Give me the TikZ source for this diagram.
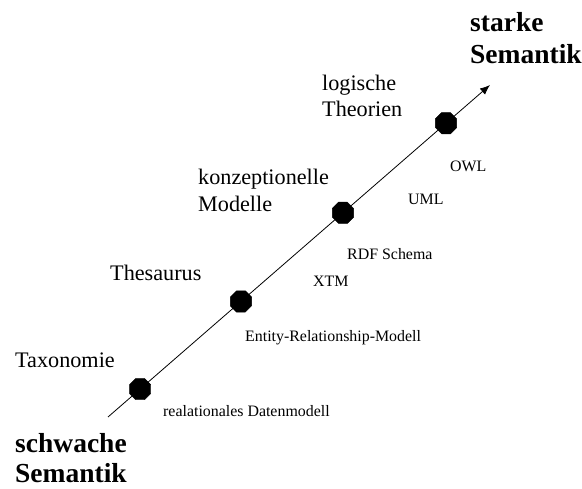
\documentclass[tikz,border=0pt]{standalone}
\usepackage{fontspec}
\setmainfont{Liberation Serif}
\usetikzlibrary{arrows.meta,shapes.geometric,calc}
\begin{document}
\begin{tikzpicture}[x=1pt,y=-1pt,
  stage/.style={regular polygon,regular polygon sides=8,fill=black,draw=black,
                minimum size=23pt,inner sep=0pt},
  poleText/.style={anchor=base west,inner sep=0pt,font=\fontsize{27.5}{33}\selectfont\bfseries},
  levelText/.style={anchor=base west,inner sep=0pt,font=\fontsize{22.2}{26}\selectfont},
  exampleText/.style={anchor=base west,inner sep=0pt,font=\fontsize{15.9}{18}\selectfont},
  axis/.style={line width=0.8pt,-{Latex[length=10pt,width=8pt]}}]
  \useasboundingbox (0,0) rectangle (582,489);

  % semantic axis
  \coordinate (lo) at (108,417);
  \coordinate (hi) at (490,85);
  \draw[axis] (lo) -- (hi);

  % stages on the axis
  \node[stage] (s1) at ($(lo)!0.084!(hi)$) {};
  \node[stage] (s2) at ($(lo)!0.348!(hi)$) {};
  \node[stage] (s3) at ($(lo)!0.615!(hi)$) {};
  \node[stage] (s4) at ($(lo)!0.885!(hi)$) {};

  % poles
  \node[poleText] (strong1) at (470,32) {starke};
  \node[poleText] (strong2) at (470,64) {Semantik};
  \node[poleText] (weak1) at (15,453) {schwache};
  \node[poleText] (weak2) at (15,483) {Semantik};

  % level names
  \node[levelText] (lt1) at (322,91) {logische};
  \node[levelText] (lt2) at (322,117) {Theorien};
  \node[levelText] (km1) at (198,185) {konzeptionelle};
  \node[levelText] (km2) at (198,212) {Modelle};
  \node[levelText] (th) at (110,281) {Thesaurus};
  \node[levelText] (tx) at (15,368) {Taxonomie};

  % example languages and models
  \node[exampleText] (owl) at (450,172) {OWL};
  \node[exampleText] (uml) at (408,205) {UML};
  \node[exampleText] (rdfs) at (347,260) {RDF Schema};
  \node[exampleText] (xtm) at (313,287) {XTM};
  \node[exampleText] (erm) at (245,342) {Entity-Relationship-Modell};
  \node[exampleText] (rdm) at (163,417) {realationales Datenmodell};
\end{tikzpicture}
\end{document}
